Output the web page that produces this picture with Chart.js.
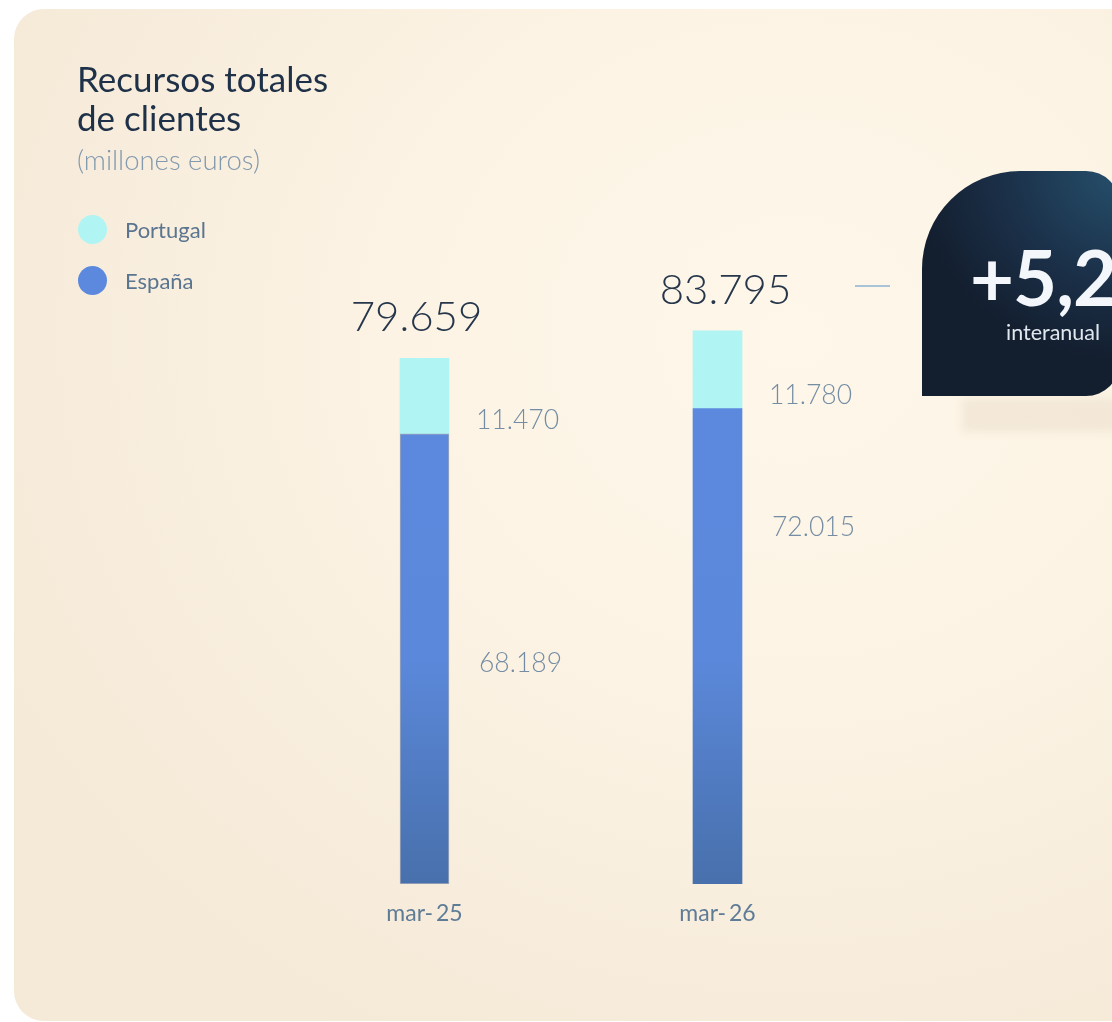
<!DOCTYPE html>
<html>
<head>
<meta charset="utf-8">
<script src="https://cdn.jsdelivr.net/npm/chart.js@4.4.1/dist/chart.umd.min.js"></script>
<style>
  html,body{margin:0;padding:0;background:#ffffff;width:1112px;height:1022px;overflow:hidden;font-family:Lato,"Noto Sans",sans-serif;}
  #card{position:absolute;left:14px;top:9px;width:1130px;height:1012px;border-radius:30px;
    background:radial-gradient(ellipse 900px 800px at 780px 330px,#fef7ea 0%,#fcf3e4 45%,#f5e9d7 100%);}
  #wrap{position:absolute;left:0;top:0;width:1112px;height:1022px;}
  .title{position:absolute;left:77px;top:59px;font-size:35px;line-height:39px;color:#1e3148;font-weight:400;}
  .sub{position:absolute;left:77px;top:143px;font-size:27.5px;color:#8299ae;font-weight:300;}
  .leg{position:absolute;left:78px;font-size:22px;color:#5a7590;display:flex;align-items:center;}
  .leg span.dot{display:inline-block;width:29px;height:29px;border-radius:50%;margin-right:18px;}
  #shadow{position:absolute;left:962px;top:398px;width:170px;height:34px;background:#efe3d2;filter:blur(4px);opacity:0.7;}
  #badge{position:absolute;left:922px;top:171px;width:198px;height:225px;border-radius:98px 34px 34px 0;
    background:radial-gradient(ellipse 260px 240px at 200px 0px,#26506c 0%,#1b3049 45%,#131e2e 80%);overflow:hidden;}
  #badge .big{position:absolute;left:48px;top:61px;font-size:76px;font-weight:700;color:#f3f6fb;line-height:90px;letter-spacing:-1px;white-space:nowrap;}
  #badge .small{position:absolute;left:84px;top:148px;font-size:21.5px;color:#e1e7ef;}
  #dash{position:absolute;left:855px;top:285px;width:35px;height:1.5px;background:#a9c3d8;}
</style>
</head>
<body>
<div id="card"></div>
<div id="wrap"><canvas id="c" width="1112" height="1022"></canvas></div>
<div class="title">Recursos totales<br>de clientes</div>
<div class="sub">(millones euros)</div>
<div class="leg" style="top:215px"><span class="dot" style="background:#b0f4f3"></span>Portugal</div>
<div class="leg" style="top:266px"><span class="dot" style="background:#5c89de"></span>España</div>
<div id="dash"></div>
<div id="shadow"></div>
<div id="badge"><div class="big">+5,2%</div><div class="small">interanual</div></div>
<script>
const categories = ["mar-25", "mar-26"];
const espana = [68189, 72015];
const portugal = [11470, 11780];
const totals = [79659, 83795];
const totalLabels = ["79.659", "83.795"];
const espanaLabels = ["68.189", "72.015"];
const portugalLabels = ["11.470", "11.780"];

// style-only placement tweaks
const totalXShift = [-8, 8];
const espLabelPos = [0.51, 0.25];

function espGradient(ctx) {
  const ca = ctx.chart.chartArea;
  if (!ca) return '#5c89de';
  const g = ctx.chart.ctx.createLinearGradient(0, ca.bottom - 500, 0, ca.bottom);
  g.addColorStop(0, '#5c89de');
  g.addColorStop(0.55, '#5b88da');
  g.addColorStop(1, '#4870ac');
  return g;
}

const labelPlugin = {
  id: 'labels',
  afterDatasetsDraw(chart) {
    const ctx = chart.ctx;
    const mEsp = chart.getDatasetMeta(0).data;
    const mPor = chart.getDatasetMeta(1).data;
    ctx.save();
    for (let i = 0; i < categories.length; i++) {
      const e = mEsp[i], p = mPor[i];
      const right = e.x + e.width / 2;
      ctx.font = '300 42px Lato, "Noto Sans", sans-serif';
      ctx.fillStyle = '#26364b';
      ctx.textAlign = 'center';
      ctx.textBaseline = 'alphabetic';
      ctx.fillText(totalLabels[i], p.x + totalXShift[i], p.y - 27);
      ctx.font = '300 26.5px Lato, "Noto Sans", sans-serif';
      ctx.fillStyle = '#758da4';
      ctx.textAlign = 'left';
      ctx.textBaseline = 'middle';
      ctx.fillText(portugalLabels[i], right + 27, e.y - 13);
      const ey = e.y + (e.base - e.y) * espLabelPos[i];
      ctx.fillText(espanaLabels[i], right + 30, ey);
    }
    ctx.restore();
  }
};

new Chart(document.getElementById('c'), {
  type: 'bar',
  data: {
    labels: categories,
    datasets: [
      { label: 'España', data: espana, backgroundColor: espGradient, borderColor: ['#a3aab6', 'rgba(0,0,0,0)'], borderWidth: [1, 0], borderSkipped: false, barThickness: 49 },
      { label: 'Portugal', data: portugal, backgroundColor: '#b0f4f3', borderWidth: 0, barThickness: 49 }
    ]
  },
  options: {
    responsive: false,
    animation: false,
    layout: { padding: { left: 278, right: 248, top: 224, bottom: 78 } },
    plugins: { legend: { display: false }, tooltip: { enabled: false } },
    scales: {
      x: {
        stacked: true,
        grid: { display: false, drawTicks: false },
        border: { display: false },
        ticks: {
          color: '#5f7c97',
          font: { family: 'Lato, "Noto Sans", sans-serif', size: 23 },
          padding: 16,
          callback(v, i) { return categories[i].replace('-', ' - ').replace(' - ', '-\u2009'); }
        },
        afterFit(s) { s.height = 60; }
      },
      y: { stacked: true, display: false, min: 0, max: 100000 }
    }
  },
  plugins: [labelPlugin]
});
</script>
</body>
</html>
